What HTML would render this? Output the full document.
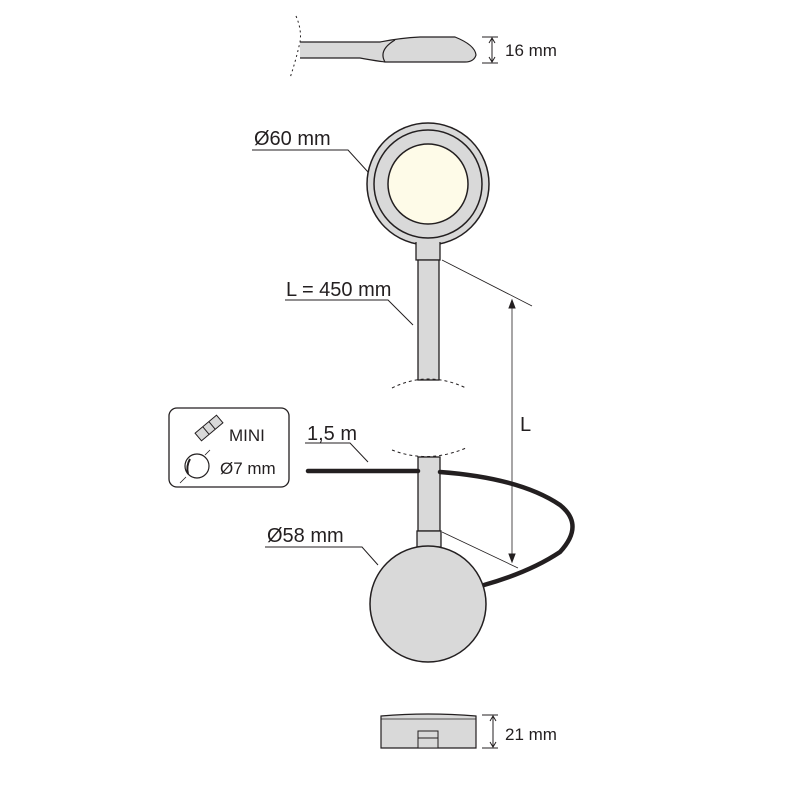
<!DOCTYPE html>
<html><head><style>body{margin:0;background:#fff}svg{display:block}text{font-family:"Liberation Sans",sans-serif;fill:#231f20}</style></head>
<body><svg width="800" height="800" viewBox="0 0 800 800">
<g stroke="#231f20" fill="none">
<path d="M296 16 Q302 30 300 42 Q296 60 290 78" stroke-dasharray="2,3"/>
<path d="M300 42 L380 42 Q400 38 420 37 L455 37 Q475 45 476 55 Q474 62 465 62 L385 62 Q370 60 360 58 L300 58" fill="#d9d9d9" stroke-width="1.2"/>
<path d="M385 62 Q378 50 395 40" stroke-width="1.2"/>
<line x1="482" y1="37" x2="498" y2="37"/><line x1="482" y1="63" x2="498" y2="63"/>
<line x1="492" y1="38" x2="492" y2="62"/>
<path d="M489 43 L492 38 L495 43 M489 57 L492 62 L495 57" fill="none"/>
<circle cx="428" cy="184" r="61" fill="#d9d9d9" stroke-width="1.5"/>
<circle cx="428" cy="184" r="54" fill="#d9d9d9" stroke-width="1.5"/>
<circle cx="428" cy="184" r="40" fill="#fefbe8" stroke-width="1.5"/>
<path d="M416 242 L416 260 L440 260 L440 242" fill="#d9d9d9" stroke-width="1.3"/>
<rect x="418" y="260" width="21" height="120" fill="#d9d9d9" stroke-width="1.3"/>
<path d="M392 388 Q428 370 466 388" stroke-dasharray="3,3"/>
<path d="M392 450 Q428 464 466 448" stroke-dasharray="3,3"/>
<rect x="418" y="457" width="22" height="74" fill="#d9d9d9" stroke-width="1.3"/>
<path d="M308 471 L418 471 M440 472 Q520 478 560 505 Q585 525 560 552 Q530 572 484 585" stroke="#231f20" stroke-width="4.5" stroke-linecap="round"/>
<rect x="417" y="531" width="24" height="16" fill="#d9d9d9" stroke-width="1.3"/>
<circle cx="428" cy="604" r="58" fill="#d9d9d9" stroke-width="1.5"/>
<line x1="442" y1="260" x2="532" y2="306" stroke-width="0.8"/>
<line x1="442" y1="532" x2="518" y2="568" stroke-width="0.8"/>
<line x1="512" y1="300" x2="512" y2="562" stroke-width="0.8"/>
<path d="M509 308 L512 300 L515 308Z M509 554 L512 562 L515 554Z" fill="#231f20"/>
<path d="M252 150 L348 150 L368 172"/>
<path d="M285 300 L388 300 L413 325"/>
<path d="M305 443 L350 443 L368 462"/>
<path d="M265 547 L362 547 L378 565"/>
<path d="M381 716 Q428 712 476 716 L476 748 L381 748Z" fill="#d9d9d9" stroke-width="1.2"/>
<line x1="381" y1="719" x2="476" y2="719" stroke-width="0.8"/>
<rect x="418" y="731" width="20" height="17" fill="#d9d9d9" stroke-width="1"/>
<line x1="418" y1="738" x2="438" y2="738"/>
<line x1="482" y1="715" x2="498" y2="715"/><line x1="482" y1="748" x2="498" y2="748"/>
<line x1="493" y1="716" x2="493" y2="747"/>
<path d="M490 721 L493 716 L496 721 M490 742 L493 747 L496 742"/>
<rect x="169" y="408" width="120" height="79" rx="8" stroke-width="1.3"/>
<g transform="translate(209,428) rotate(-40)"><rect x="-14" y="-5" width="28" height="10" fill="#d9d9d9"/><line x1="-4" y1="-5" x2="-4" y2="5"/><line x1="4" y1="-5" x2="4" y2="5"/></g>
<circle cx="197" cy="466" r="12" fill="#fff" stroke-width="1.2"/>
<path d="M188 474 Q186 466 190 459" stroke-width="2"/>
<path d="M210 450 L205 455 M180 483 L186 477" stroke-width="0.8"/>
</g>
<g font-size="20">
<text x="254" y="145">Ø60 mm</text>
<text x="286" y="296">L = 450 mm</text>
<text x="307" y="440">1,5 m</text>
<text x="267" y="542">Ø58 mm</text>
<text x="520" y="431">L</text>
</g>
<g font-size="17">
<text x="505" y="56">16 mm</text>
<text x="505" y="740">21 mm</text>
<text x="229" y="441">MINI</text>
<text x="220" y="474">Ø7 mm</text>
</g>
</svg></body></html>
